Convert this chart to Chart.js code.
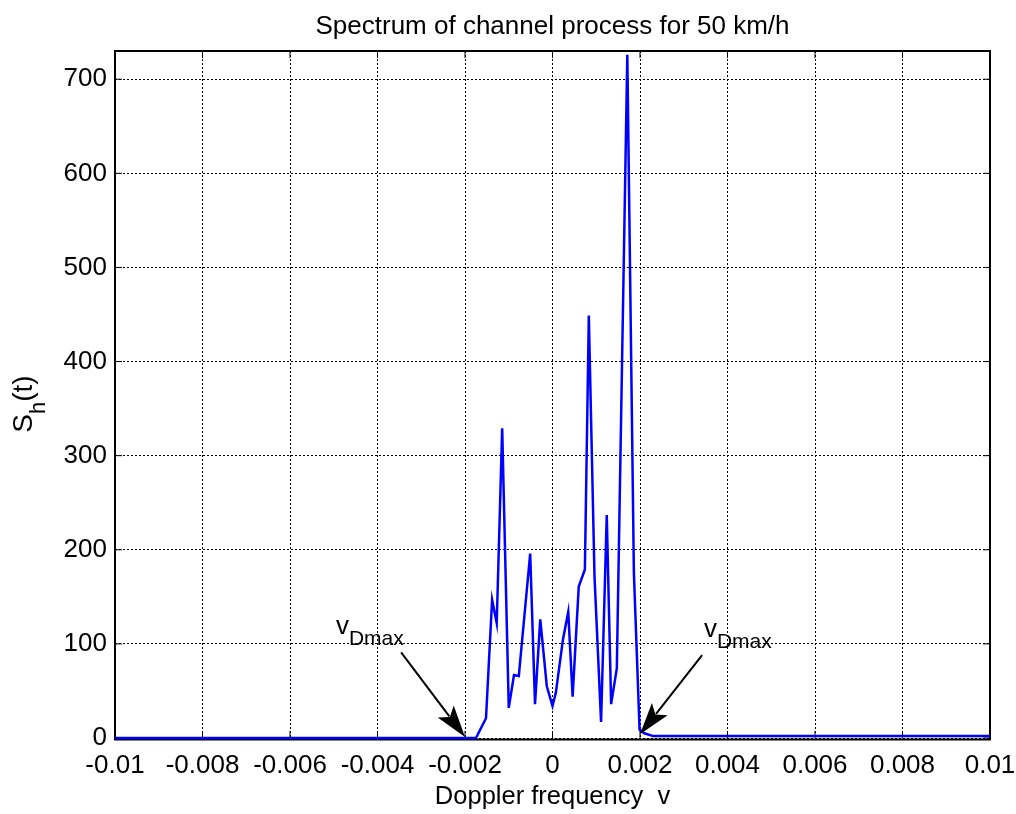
<!DOCTYPE html>
<html>
<head>
<meta charset="utf-8">
<script src="https://cdn.jsdelivr.net/npm/chart.js@4.4.0/dist/chart.umd.min.js"></script>
<style>
html, body { margin: 0; padding: 0; background: #fff; }
#wrap { width: 1016px; height: 814px; }
</style>
</head>
<body>
<div id="wrap"><canvas id="grafico"></canvas></div>
<script>
// Doppler frequency samples and spectrum values
var freq = [-0.01, -0.00175, -0.00152, -0.00138, -0.001275, -0.00115, -0.001, -0.00088, -0.00077,
    -0.00051, -0.0004, -0.00028, -0.00013, 0, 0.000076, 0.00024, 0.00036, 0.00046, 0.0006,
    0.00074, 0.00083, 0.00096, 0.00111, 0.00124, 0.00134, 0.00147, 0.00171, 0.00186, 0.00199,
    0.0021, 0.0023, 0.01];
var spectrum = [0, 0, 21, 147, 122, 329, 32, 67, 66,
    196, 36, 126, 55, 34, 48, 105, 134, 44, 161,
    179, 449, 172, 17, 237, 36, 74, 726, 176, 9,
    5, 2, 2];

var xTicks = [-0.01, -0.008, -0.006, -0.004, -0.002, 0, 0.002, 0.004, 0.006, 0.008, 0.01];
var xTickLabels = ['-0.01', '-0.008', '-0.006', '-0.004', '-0.002', '0', '0.002', '0.004', '0.006', '0.008', '0.01'];
var yTicks = [0, 100, 200, 300, 400, 500, 600, 700];
var yTickLabels = ['0', '100', '200', '300', '400', '500', '600', '700'];

// v_Dmax markers: arrow tails, arrow tips and label anchors (data units)
var arrowFrom = [[-0.00346, 91], [0.00342, 88]];
var arrowTo = [[-0.002, 1], [0.002, 4]];
var noteAt = [[-0.00495, 110], [0.00346, 107]];

var fonte = "'Liberation Sans', Arial, sans-serif";

var pontos = [];
for (var i = 0; i < freq.length; i++) {
    pontos.push({x: freq[i], y: spectrum[i]});
}

function linha(ctx, x1, y1, x2, y2) {
    ctx.beginPath();
    ctx.moveTo(x1, y1);
    ctx.lineTo(x2, y2);
    ctx.stroke();
}

var moldura = {
    id: 'moldura',
    beforeDatasetsDraw: function (chart) {
        var ctx = chart.ctx, a = chart.chartArea;
        var sx = chart.scales.x, sy = chart.scales.y;
        ctx.save();
        ctx.strokeStyle = '#000';
        ctx.lineWidth = 1;
        // small inward tick marks on all four sides
        xTicks.forEach(function (v) {
            var px = sx.getPixelForValue(v);
            linha(ctx, px, a.bottom, px, a.bottom - 7);
            linha(ctx, px, a.top, px, a.top + 7);
        });
        yTicks.forEach(function (v) {
            var py = sy.getPixelForValue(v);
            linha(ctx, a.left, py, a.left + 7, py);
            linha(ctx, a.right, py, a.right - 7, py);
        });
        ctx.lineWidth = 2;
        ctx.strokeRect(a.left, a.top, a.right - a.left, a.bottom - a.top + 1.5);
        ctx.restore();
    },
    afterDraw: function (chart) {
        var ctx = chart.ctx, a = chart.chartArea;
        var sx = chart.scales.x, sy = chart.scales.y;
        var meio = (a.left + a.right) / 2;
        ctx.save();
        ctx.fillStyle = '#000';
        ctx.textBaseline = 'middle';
        ctx.textAlign = 'center';

        // title and x label
        ctx.font = '26px ' + fonte;
        ctx.fillText('Spectrum of channel process for 50 km/h', meio, 27);
        ctx.font = '25.5px ' + fonte;
        ctx.fillText('Doppler frequency  v', meio, 797);

        // y label S_h(t), rotated
        ctx.translate(26, 404);
        ctx.rotate(-Math.PI / 2);
        ctx.textAlign = 'left';
        ctx.textBaseline = 'alphabetic';
        ctx.font = '28px ' + fonte;
        var wS = ctx.measureText('S').width;
        var wP = ctx.measureText('(t)').width;
        ctx.font = '22px ' + fonte;
        var wH = ctx.measureText('h').width;
        var x0 = -(wS + wH + wP) / 2;
        ctx.font = '28px ' + fonte;
        ctx.fillText('S', x0, 6);
        ctx.font = '22px ' + fonte;
        ctx.fillText('h', x0 + wS, 19);
        ctx.font = '28px ' + fonte;
        ctx.fillText('(t)', x0 + wS + wH, 6);
        ctx.setTransform(1, 0, 0, 1, 0, 0);

        // arrows pointing at +/- v_Dmax
        ctx.strokeStyle = '#000';
        ctx.lineWidth = 2;
        for (var k = 0; k < arrowFrom.length; k++) {
            var x1 = sx.getPixelForValue(arrowFrom[k][0]), y1 = sy.getPixelForValue(arrowFrom[k][1]);
            var x2 = sx.getPixelForValue(arrowTo[k][0]), y2 = sy.getPixelForValue(arrowTo[k][1]);
            var ang = Math.atan2(y2 - y1, x2 - x1);
            var comp = 32, larg = 10;
            var bx = x2 - comp * Math.cos(ang), by = y2 - comp * Math.sin(ang);
            linha(ctx, x1, y1, bx + 6 * Math.cos(ang), by + 6 * Math.sin(ang));
            ctx.beginPath();
            ctx.moveTo(x2, y2);
            ctx.lineTo(bx + larg * Math.sin(ang), by - larg * Math.cos(ang));
            ctx.lineTo(bx + 7 * Math.cos(ang), by + 7 * Math.sin(ang));
            ctx.lineTo(bx - larg * Math.sin(ang), by + larg * Math.cos(ang));
            ctx.closePath();
            ctx.fill();

            var tx = sx.getPixelForValue(noteAt[k][0]), ty = sy.getPixelForValue(noteAt[k][1]);
            ctx.font = '26px ' + fonte;
            ctx.fillText('v', tx, ty);
            var wv = ctx.measureText('v').width;
            ctx.font = '21px ' + fonte;
            ctx.fillText('Dmax', tx + wv, ty + 11);
        }
        ctx.restore();
    }
};

var grafico = document.getElementById('grafico').getContext('2d');
var chart = new Chart(grafico, {
    type: 'line',
    data: {
        datasets: [{
            data: pontos,
            borderColor: '#0000ff',
            borderWidth: 2.5,
            backgroundColor: 'transparent',
            pointRadius: 0,
            tension: 0,
            fill: false,
            clip: 3
        }]
    },
    options: {
        responsive: true,
        maintainAspectRatio: false,
        animation: false,
        layout: { padding: { top: 51, right: 26, bottom: 0, left: 0 } },
        plugins: { legend: { display: false }, tooltip: { enabled: false } },
        scales: {
            x: {
                type: 'linear',
                min: -0.01,
                max: 0.01,
                afterBuildTicks: function (scale) {
                    scale.ticks = xTicks.map(function (v) { return {value: v}; });
                },
                afterFit: function (scale) {
                    scale.height = 76;
                    scale.paddingLeft = 0;
                    scale.paddingRight = 0;
                },
                ticks: {
                    autoSkip: false,
                    maxRotation: 0,
                    padding: 12,
                    color: '#000',
                    font: { family: fonte, size: 26 },
                    callback: function (v, i) { return xTickLabels[i]; }
                },
                grid: { color: '#000', lineWidth: 1, drawTicks: false },
                border: { display: false, dash: [2, 2] }
            },
            y: {
                type: 'linear',
                min: 0,
                max: 730,
                afterBuildTicks: function (scale) {
                    scale.ticks = yTicks.map(function (v) { return {value: v}; });
                },
                afterFit: function (scale) {
                    scale.width = 115;
                },
                ticks: {
                    padding: 8,
                    color: '#000',
                    font: { family: fonte, size: 26 },
                    callback: function (v, i) { return yTickLabels[i]; }
                },
                grid: { color: '#000', lineWidth: 1, drawTicks: false },
                border: { display: false, dash: [2, 2] }
            }
        }
    },
    plugins: [moldura]
});
</script>
</body>
</html>
